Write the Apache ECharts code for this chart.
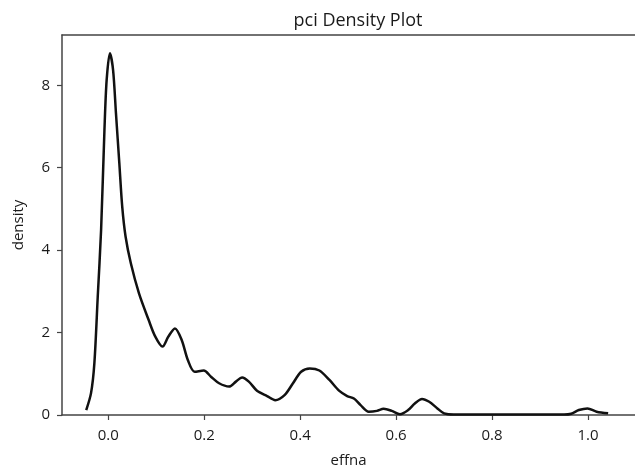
<!DOCTYPE html>
<html>
<head>
<meta charset="utf-8">
<script src="https://cdn.jsdelivr.net/npm/echarts@6/dist/echarts.min.js"></script>
<style>html,body{margin:0;padding:0;background:#fff}#c{width:635px;height:473px}</style>
</head>
<body>
<div id="c"></div>
<script>
const xValues = [-0.046,-0.036,-0.029,-0.022,-0.015,-0.008,-0.0034,0.0034,0.010,0.016,0.023,0.029,0.036,0.047,0.064,0.084,0.098,0.113,0.125,0.139,0.153,0.166,0.180,0.199,0.214,0.231,0.252,0.266,0.279,0.293,0.310,0.331,0.348,0.368,0.385,0.402,0.420,0.440,0.461,0.481,0.498,0.512,0.526,0.543,0.560,0.574,0.591,0.608,0.625,0.639,0.654,0.669,0.686,0.700,0.72,0.8,0.9,0.95,0.965,0.981,0.999,1.018,1.042];
const densityValues = [0.12,0.53,1.26,2.87,4.49,6.92,8.13,8.78,8.37,7.32,6.11,5.06,4.33,3.68,2.95,2.31,1.90,1.66,1.90,2.10,1.82,1.33,1.05,1.08,0.93,0.77,0.69,0.81,0.91,0.81,0.59,0.46,0.36,0.49,0.77,1.05,1.13,1.08,0.85,0.59,0.46,0.40,0.24,0.08,0.10,0.15,0.10,0.02,0.12,0.28,0.39,0.32,0.16,0.04,0.01,0.01,0.01,0.01,0.03,0.12,0.16,0.08,0.04];
const xTicks = [0.0,0.2,0.4,0.6,0.8,1.0];
const yTicks = [0,2,4,6,8];
const titleText = 'pci Density Plot';
const xLabel = 'effna';
const yLabel = 'density';

const chart = echarts.init(document.getElementById('c'), null, {renderer:'canvas'});
const font = 'Open Sans';
const axisCol = '#444';
const txtCol = '#1a1a1a';
chart.setOption({
  animation:false,
  backgroundColor:'#fff',
  title:{text:titleText,left:353,top:7,textAlign:'center',textStyle:{fontFamily:font,fontSize:18,fontWeight:'normal',color:txtCol}},
  grid:{left:62,width:582,top:35,bottom:58,show:false},
  xAxis:[{type:'value',min:-0.0965,max:1.098,
    name:xLabel,nameLocation:'middle',nameGap:38,nameTextStyle:{fontFamily:font,fontSize:15,color:txtCol},
    axisLine:{show:true,onZero:false,lineStyle:{color:axisCol,width:1.5}},
    axisTick:{show:true,length:5,customValues:xTicks,lineStyle:{color:axisCol,width:1.2}},
    axisLabel:{customValues:xTicks,margin:13,fontFamily:font,fontSize:15,color:txtCol,formatter:v=>v.toFixed(1)},
    splitLine:{show:false}},
   {type:'value',position:'top',min:-0.0965,max:1.098,
    axisLine:{show:true,onZero:false,lineStyle:{color:axisCol,width:1.5}},
    axisTick:{show:false},axisLabel:{show:false},splitLine:{show:false}}],
  yAxis:{type:'value',min:0,max:9.22,
    name:yLabel,nameLocation:'middle',nameGap:36,nameTextStyle:{fontFamily:font,fontSize:15,color:txtCol},
    axisLine:{show:true,onZero:false,lineStyle:{color:axisCol,width:1.5}},
    axisTick:{show:true,length:5,customValues:yTicks,lineStyle:{color:axisCol,width:1.2}},
    axisLabel:{customValues:yTicks,margin:12,fontFamily:font,fontSize:15,color:txtCol},
    splitLine:{show:false}},
  series:[{type:'line',xAxisIndex:0,data:xValues.map((x,i)=>[x,densityValues[i]]),smooth:0.3,showSymbol:false,
    lineStyle:{color:'#111',width:2.5}}]
});
</script>
</body>
</html>
